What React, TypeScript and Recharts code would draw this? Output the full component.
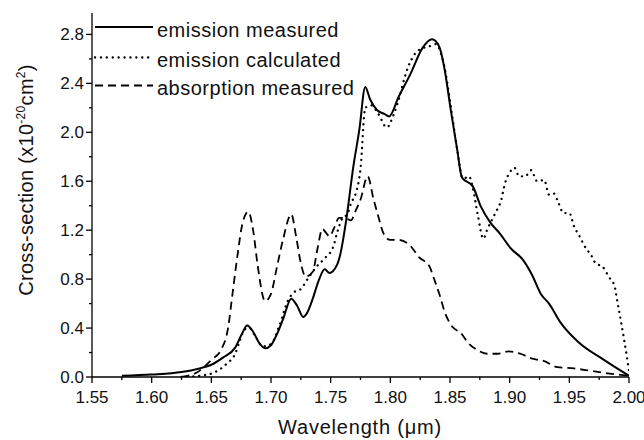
import React from "react";
import { LineChart, Line, XAxis, YAxis } from "recharts";

// wavelength (um) and cross-section (x1e-20 cm^2) per series
const measWl = [
	1.575, 1.6, 1.625, 1.64, 1.65, 1.66, 1.67, 1.676, 1.68, 1.685, 1.69, 1.695,
	1.7, 1.705, 1.71, 1.717, 1.722, 1.727, 1.73, 1.735, 1.74, 1.745, 1.749,
	1.755, 1.758, 1.763, 1.769, 1.774, 1.779, 1.783, 1.789, 1.795, 1.799,
	1.807, 1.817, 1.827, 1.835, 1.841, 1.845, 1.851, 1.856, 1.86, 1.869,
	1.876, 1.884, 1.892, 1.901, 1.911, 1.919, 1.926, 1.933, 1.943, 1.957,
	1.979, 2.0,
];
const measCs = [
	0.01, 0.02, 0.04, 0.07, 0.1, 0.16, 0.24, 0.36, 0.42, 0.37, 0.28, 0.235,
	0.26, 0.35, 0.47, 0.64, 0.58, 0.49, 0.52, 0.64, 0.79, 0.88, 0.85, 0.91,
	1.0, 1.28, 1.72, 2.02, 2.37, 2.27, 2.18, 2.15, 2.13, 2.29, 2.48, 2.69,
	2.76, 2.7, 2.54, 2.16, 1.86, 1.63, 1.56, 1.39, 1.26, 1.17, 1.05, 0.96,
	0.83, 0.68, 0.6, 0.44, 0.29, 0.14, 0.01,
];

const calcWl = [
	1.625, 1.64, 1.652, 1.663, 1.67, 1.674, 1.678, 1.682, 1.687, 1.693, 1.7,
	1.707, 1.714, 1.719, 1.725, 1.732, 1.738, 1.746, 1.752, 1.756, 1.76,
	1.764, 1.767, 1.771, 1.775, 1.779, 1.784, 1.79, 1.797, 1.803, 1.808,
	1.812, 1.818, 1.825, 1.832, 1.838, 1.845, 1.851, 1.856, 1.861, 1.866,
	1.869, 1.873, 1.878, 1.881, 1.888, 1.893, 1.896, 1.9, 1.904, 1.908,
	1.913, 1.918, 1.923, 1.929, 1.933, 1.937, 1.941, 1.945, 1.95, 1.954,
	1.958, 1.964, 1.968, 1.972, 1.978, 1.983, 1.988, 1.99, 1.993, 1.996,
	1.998, 2.0,
];
const calcCs = [
	0.0, 0.01, 0.035, 0.11, 0.19, 0.3, 0.39, 0.4, 0.33, 0.25, 0.27, 0.42,
	0.62, 0.69, 0.72, 0.82, 0.9, 0.98, 1.06, 1.2, 1.3, 1.33, 1.42, 1.5, 1.7,
	2.2, 2.22, 2.15, 2.04, 2.15, 2.3, 2.45, 2.6, 2.68, 2.7, 2.72, 2.55, 2.19,
	1.86, 1.62, 1.64, 1.55, 1.34, 1.13, 1.2, 1.34, 1.45, 1.58, 1.67, 1.71,
	1.64, 1.64, 1.69, 1.6, 1.61, 1.49, 1.5, 1.42, 1.34, 1.34, 1.23, 1.16,
	1.05, 1.0, 0.93, 0.9, 0.82, 0.74, 0.63, 0.47, 0.3, 0.18, 0.05,
];

const absWl = [
	1.625, 1.64, 1.65, 1.658, 1.664, 1.668, 1.672, 1.676, 1.681, 1.685, 1.689,
	1.695, 1.7, 1.705, 1.71, 1.717, 1.721, 1.725, 1.729, 1.735, 1.739, 1.743,
	1.746, 1.749, 1.753, 1.757, 1.762, 1.767, 1.771, 1.775, 1.781, 1.786,
	1.79, 1.794, 1.8, 1.807, 1.816, 1.824, 1.833, 1.836, 1.841, 1.846, 1.852,
	1.859, 1.866, 1.873, 1.881, 1.89, 1.899, 1.909, 1.919, 1.929, 1.94,
	1.954, 1.968, 1.982, 2.0,
];
const absCs = [
	0.0, 0.05, 0.14, 0.22, 0.4, 0.7, 1.0, 1.25, 1.35, 1.2, 0.9, 0.62, 0.68,
	0.9, 1.12, 1.33, 1.15, 0.93, 0.82, 0.86, 1.05, 1.21, 1.18, 1.15, 1.22,
	1.3, 1.3, 1.28, 1.36, 1.45, 1.64, 1.45, 1.31, 1.18, 1.12, 1.12, 1.08,
	0.98, 0.9, 0.82, 0.68, 0.52, 0.41, 0.36, 0.27, 0.22, 0.19, 0.19, 0.21,
	0.19, 0.15, 0.13, 0.08, 0.07, 0.05, 0.03, 0.01,
];

// major + minor ticks
const xTicks = [
	1.55, 1.575, 1.6, 1.625, 1.65, 1.675, 1.7, 1.725, 1.75, 1.775, 1.8, 1.825,
	1.85, 1.875, 1.9, 1.925, 1.95, 1.975, 2.0,
];
const yTicks = [0, 0.2, 0.4, 0.6, 0.8, 1.0, 1.2, 1.4, 1.6, 1.8, 2.0, 2.2, 2.4, 2.6, 2.8];

const DOTS = "0.1 5.8";
const DASHES = "8 5";
const legendItems = [
	{ name: "emission measured", dash: undefined, y: 27 },
	{ name: "emission calculated", dash: DOTS, y: 57.5 },
	{ name: "absorption measured", dash: DASHES, y: 85.5 },
];

const FONT = "'Liberation Sans', Arial, Helvetica, sans-serif";
const INK = "#111";

const zip = (xs: number[], ys: number[]) => xs.map((wl, i) => ({ wl, cs: ys[i] }));
const measured = zip(measWl, measCs);
const calculated = zip(calcWl, calcCs);
const absorption = zip(absWl, absCs);

const isMajor = (v: number, step: number) =>
	Math.abs(v / step - Math.round(v / step)) < 1e-6;

function XTick(props: any) {
	const { x, y, payload } = props;
	const v = payload.value;
	const major = isMajor(v, 0.05);
	return (
		<g>
			<line x1={x} x2={x} y1={y} y2={y + (major ? 6 : 3)} stroke="#000" strokeWidth={1.3} />
			{major && (
				<text x={x} y={y + 26} textAnchor="middle" fontSize={17} fontFamily={FONT} fill={INK}>
					{v.toFixed(2)}
				</text>
			)}
		</g>
	);
}

function YTick(props: any) {
	const { x, y, payload } = props;
	const v = payload.value;
	const major = isMajor(v, 0.4);
	return (
		<g>
			<line x1={x - (major ? 6 : 3)} x2={x} y1={y} y2={y} stroke="#000" strokeWidth={1.3} />
			{major && (
				<text x={x - 8} y={y + 6} textAnchor="end" fontSize={17} fontFamily={FONT} fill={INK}>
					{v.toFixed(1)}
				</text>
			)}
		</g>
	);
}

function YTitle() {
	return (
		<text
			transform="translate(33,180) rotate(-90)"
			textAnchor="middle"
			fontSize={20}
			letterSpacing={0.3}
			fontFamily={FONT}
			fill={INK}
		>
			Cross-section (x10
			<tspan dy={-8} fontSize={12}>-20</tspan>
			<tspan dy={8}>cm</tspan>
			<tspan dy={-8} fontSize={12}>2</tspan>
			<tspan dy={8}>)</tspan>
		</text>
	);
}

function XTitle() {
	return (
		<text
			x={360}
			y={434}
			textAnchor="middle"
			fontSize={20}
			letterSpacing={0.8}
			fontFamily={FONT}
			fill={INK}
		>
			Wavelength (μm)
		</text>
	);
}

function LegendBox() {
	return (
		<svg
			width={644}
			height={440}
			style={{ position: "absolute", left: 0, top: 0, pointerEvents: "none" }}
		>
			{legendItems.map((item) => (
				<g key={item.name}>
					<line
						x1={95}
						x2={153}
						y1={item.y}
						y2={item.y}
						stroke="#000"
						strokeWidth={item.dash === DOTS ? 2.3 : 1.9}
						strokeDasharray={item.dash}
						strokeLinecap={item.dash === DOTS ? "round" : "butt"}
					/>
					<text
						x={157}
						y={item.y + 9.5}
						fontSize={20}
						letterSpacing={0.5}
						fontFamily={FONT}
						fill={INK}
					>
						{item.name}
					</text>
				</g>
			))}
		</svg>
	);
}

export default function App() {
	return (
		<div style={{ position: "absolute", left: 0, top: 0, width: 644, height: 440, background: "#fff" }}>
			<LineChart
				width={644}
				height={440}
				margin={{ top: 13, right: 15, left: 0, bottom: 0 }}
			>
				<XAxis
					xAxisId="b"
					dataKey="wl"
					type="number"
					domain={[1.55, 2.0]}
					ticks={xTicks}
					interval={0}
					height={63}
					tickSize={0}
					tickMargin={0}
					tickLine={false}
					tick={<XTick />}
					axisLine={{ stroke: "#000", strokeWidth: 1.3 }}
					allowDataOverflow
					label={<XTitle />}
				/>
				<XAxis
					xAxisId="t"
					orientation="top"
					dataKey="wl"
					type="number"
					domain={[1.55, 2.0]}
					height={0}
					tick={false}
					tickLine={false}
					axisLine={{ stroke: "#333", strokeWidth: 1.2 }}
				/>
				<YAxis
					yAxisId="l"
					type="number"
					domain={[0, 2.975]}
					ticks={yTicks}
					interval={0}
					width={92}
					tickSize={0}
					tickMargin={0}
					tickLine={false}
					tick={<YTick />}
					axisLine={{ stroke: "#000", strokeWidth: 1.3 }}
					allowDataOverflow
					label={<YTitle />}
				/>
				<YAxis
					yAxisId="r"
					orientation="right"
					type="number"
					domain={[0, 2.975]}
					width={0}
					tick={false}
					tickLine={false}
					axisLine={{ stroke: "#333", strokeWidth: 1.2 }}
				/>
				<Line
					xAxisId="b"
					yAxisId="l"
					data={absorption}
					dataKey="cs"
					type="monotone"
					stroke="#000"
					strokeWidth={1.8}
					strokeDasharray={DASHES}
					dot={false}
					isAnimationActive={false}
				/>
				<Line
					xAxisId="b"
					yAxisId="l"
					data={calculated}
					dataKey="cs"
					type="monotone"
					stroke="#000"
					strokeWidth={2.3}
					strokeDasharray={DOTS}
					strokeLinecap="round"
					dot={false}
					isAnimationActive={false}
				/>
				<Line
					xAxisId="b"
					yAxisId="l"
					data={measured}
					dataKey="cs"
					type="monotone"
					stroke="#000"
					strokeWidth={2}
					dot={false}
					isAnimationActive={false}
				/>
			</LineChart>
			<LegendBox />
		</div>
	);
}
